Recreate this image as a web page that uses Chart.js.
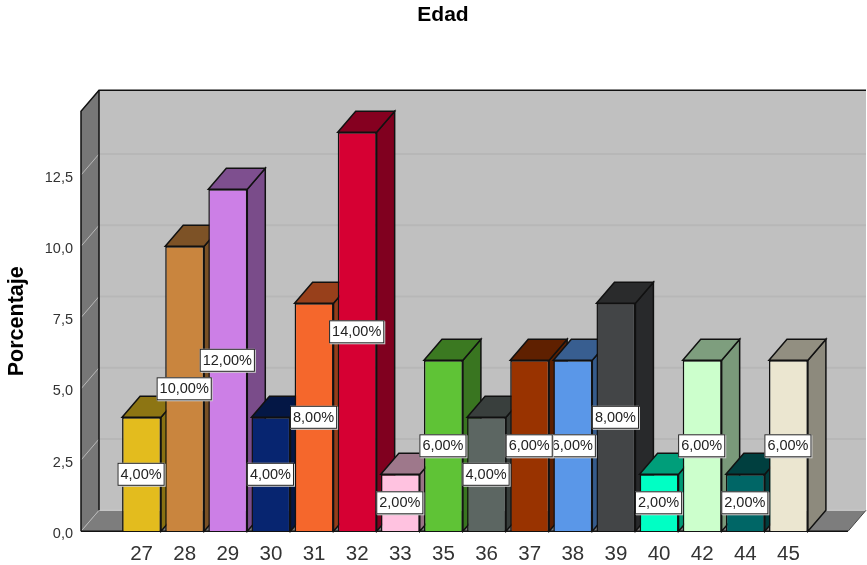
<!DOCTYPE html>
<html><head><meta charset="utf-8">
<style>html,body{margin:0;padding:0;background:#fff;overflow:hidden}#w{position:relative;width:867px;height:565px;overflow:hidden}canvas{display:block}</style>
<script src="https://cdn.jsdelivr.net/npm/chart.js@4"></script></head>
<body><div id="w"><canvas id="c" width="867" height="579"></canvas></div>
<script>
const categories=['27','28','29','30','31','32','33','35','36','37','38','39','40','42','44','45'];
const percentages=[4,10,12,4,8,14,2,6,4,6,6,8,2,6,2,6];
const barColors=['#e3bc1e','#c9853e','#cc7fe6','#072570','#f5672c','#d60033','#ffc2e0','#5fc336','#5c6662','#993300','#5a97e8','#434547','#00ffc4','#ccffcc','#006666','#ebe6d0'];
const yTicks=[0,2.5,5,7.5,10,12.5];
const DX=18,DY=-21,WALL_LEFT=39,WALL_RIGHT=38;
function shade(hex,f){const n=parseInt(hex.slice(1),16);const c=s=>Math.round(((n>>s)&255)*f);return `rgb(${c(16)},${c(8)},${c(0)})`;}
function poly(ctx,pts,fill,stroke,lw){ctx.beginPath();pts.forEach((p,i)=>i?ctx.lineTo(p[0],p[1]):ctx.moveTo(p[0],p[1]));ctx.closePath();if(fill){ctx.fillStyle=fill;ctx.fill();}if(stroke){ctx.strokeStyle=stroke;ctx.lineWidth=lw||1;ctx.stroke();}}
const stage={id:'stage',
 afterLayout(chart){if(chart.titleBlock){chart.titleBlock.left+=38;chart.titleBlock.right+=38;}},
 beforeDatasetsDraw(chart){
  const {ctx,chartArea:a,scales:{y}}=chart;const L=a.left-WALL_LEFT,R=a.right+WALL_RIGHT,T=a.top,B=a.bottom;
  ctx.save();
  poly(ctx,[[L+DX,T+DY],[R+DX,T+DY],[R+DX,B+DY],[L+DX,B+DY]],'#c0c0c0');
  poly(ctx,[[L,T],[L+DX,T+DY],[L+DX,B+DY],[L,B]],'#777777');
  poly(ctx,[[L,B],[R,B],[R+DX,B+DY],[L+DX,B+DY]],'#7d7d7d');
  yTicks.forEach(v=>{if(!v)return;const py=y.getPixelForValue(v);
   ctx.lineWidth=2;ctx.strokeStyle='#b7b7b7';ctx.beginPath();ctx.moveTo(L+DX,py+DY);ctx.lineTo(R+DX,py+DY);ctx.stroke();
   ctx.lineWidth=1;ctx.strokeStyle='#b8b8b8';ctx.beginPath();ctx.moveTo(L,py);ctx.lineTo(L+DX,py+DY);ctx.stroke();});
  ctx.lineWidth=1;ctx.strokeStyle='#b8b8b8';ctx.beginPath();ctx.moveTo(L,B);ctx.lineTo(L+DX,B+DY);ctx.stroke();
  ctx.strokeStyle='#d0d0d0';ctx.beginPath();ctx.moveTo(L+DX,B+DY);ctx.lineTo(R+DX,B+DY);ctx.stroke();
  ctx.strokeStyle='#111';ctx.lineWidth=1.5;
  ctx.beginPath();ctx.moveTo(L,B);ctx.lineTo(L,T);ctx.lineTo(L+DX,T+DY);ctx.lineTo(R+DX,T+DY);ctx.stroke();
  ctx.beginPath();ctx.moveTo(L+DX,T+DY);ctx.lineTo(L+DX,B+DY);ctx.stroke();
  ctx.beginPath();ctx.moveTo(L,B);ctx.lineTo(R,B);ctx.stroke();
  ctx.strokeStyle='#444';ctx.lineWidth=1;ctx.beginPath();ctx.moveTo(R,B);ctx.lineTo(R+DX,B+DY);ctx.stroke();
  chart.getDatasetMeta(0).data.forEach((b,i)=>{
   const h=b.width/2,l=b.x-h,r=b.x+h,t=b.y,bt=b.base,col=barColors[i];
   poly(ctx,[[r,t],[r+DX,t+DY],[r+DX,bt+DY],[r,bt]],shade(col,0.6),'#111',1.5);
   poly(ctx,[[l,t],[l+DX,t+DY],[r+DX,t+DY],[r,t]],shade(col,0.62),'#111',1.5);
  });
  ctx.restore();
 },
 afterDatasetsDraw(chart){
  const {ctx}=chart;const bars=chart.getDatasetMeta(0).data;ctx.save();
  ctx.font='14.5px "Liberation Sans"';ctx.textAlign='center';ctx.textBaseline='middle';
  for(let i=bars.length-1;i>=0;i--){const b=bars[i];
   const txt=percentages[i].toFixed(2).replace('.',',')+'%';
   const w=ctx.measureText(txt).width+6,cy=(b.y+b.base)/2,x=b.x-w/2-0.5,yy=cy-11.5;
   ctx.fillStyle='#ccc';ctx.fillRect(x+1,yy+1,w,23);
   ctx.fillStyle='#fff';ctx.fillRect(x,yy,w,23);
   ctx.strokeStyle='#222';ctx.lineWidth=1;ctx.strokeRect(x+.5,yy+.5,w-1,22);
   ctx.fillStyle='#222';ctx.fillText(txt,b.x-0.5,cy+.5);
  }
  ctx.restore();
 }};
new Chart(document.getElementById('c'),{type:'bar',
 data:{labels:categories,datasets:[{data:percentages,backgroundColor:barColors,borderColor:'#111',borderWidth:1.5,barPercentage:0.903,categoryPercentage:1}]},
 plugins:[stage],
 options:{responsive:false,animation:false,
  layout:{padding:{left:0,right:57,top:0,bottom:0}},
  plugins:{legend:{display:false},tooltip:{enabled:false},
   title:{display:true,text:'Edad',color:'#000',font:{family:'"Liberation Sans"',size:21,weight:'bold'},padding:{top:3,bottom:83}}},
  scales:{
   x:{offset:true,grid:{display:false},border:{display:false},
      afterFit(s){s.height=34;},
      ticks:{color:'#333',font:{family:'"Liberation Sans"',size:20.5},padding:3,maxRotation:0,autoSkip:false}},
   y:{min:0,max:14.74,grid:{display:false},border:{display:false},
      afterFit(s){s.width=120;},
      title:{display:true,text:'Porcentaje',color:'#000',font:{family:'"Liberation Sans"',size:21.5,weight:'bold'},padding:{top:4,bottom:0}},
      ticks:{stepSize:2.5,includeBounds:false,labelOffset:2.5,color:'#333',font:{family:'"Liberation Sans"',size:14.5},padding:39,
       callback:v=>v.toFixed(1).replace('.',',')}}
  }}});
</script></body></html>
